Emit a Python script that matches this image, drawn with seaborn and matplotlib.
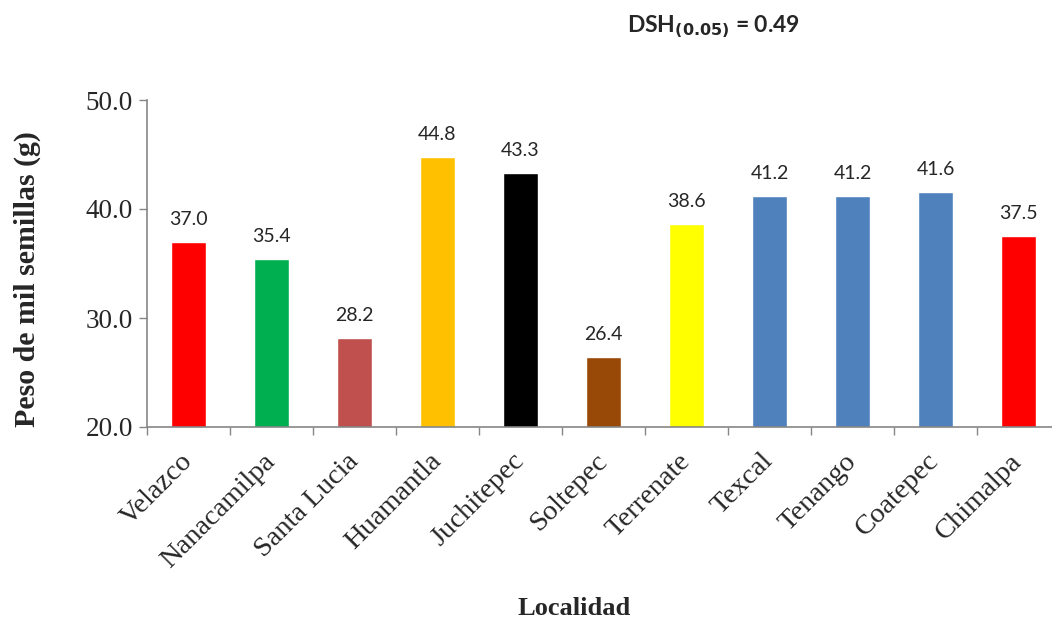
import matplotlib
matplotlib.use("Agg")
import matplotlib.pyplot as plt
import seaborn as sns
import pandas as pd
import numpy as np

localidades = ["Velazco", "Nanacamilpa", "Santa Lucia", "Huamantla", "Juchitepec",
               "Soltepec", "Terrenate", "Texcal", "Tenango", "Coatepec", "Chimalpa"]
peso = [37.0, 35.4, 28.2, 44.8, 43.3, 26.4, 38.6, 41.2, 41.2, 41.6, 37.5]
colores = ["#FF0000", "#00B050", "#C0504D", "#FFC000", "#000000", "#984807",
           "#FFFF00", "#4F81BD", "#4F81BD", "#4F81BD", "#FF0000"]
y_ticks = [20.0, 30.0, 40.0, 50.0]

sns.set_theme(style="white")
plt.rcParams["font.family"] = ["Liberation Serif", "DejaVu Serif"]

df = pd.DataFrame({"Localidad": localidades, "Peso": peso})

fig = plt.figure(figsize=(10.52, 6.21), dpi=100)
ax = fig.add_axes([147 / 1052, 1 - 427 / 621, 913 / 1052, 327 / 621])

sns.barplot(data=df, x="Localidad", y="Peso", hue="Localidad",
            palette=dict(zip(localidades, colores)), width=0.41,
            legend=False, ax=ax, saturation=1)

ax.set_ylim(20, 50)
ax.set_xlim(-0.5, len(localidades) - 0.5)
ax.set_yticks(y_ticks)
ax.set_yticklabels([f"{v:.1f}" for v in y_ticks], fontsize=19.5)

ax.set_xticks(range(len(localidades)))
ax.set_xticklabels(localidades, rotation=45, ha="right", va="center",
                   rotation_mode="anchor", fontsize=20.5)
ax.set_xticks(np.arange(-0.5, len(localidades), 1.0), minor=True)
ax.tick_params(axis="x", which="major", length=0, pad=22)
ax.tick_params(axis="x", which="minor", length=6, width=1, color="#868686",
               direction="out", bottom=True)
ax.tick_params(axis="y", length=6, width=1, color="#868686", direction="out",
               left=True, pad=4)

for side in ["top", "right"]:
    ax.spines[side].set_visible(False)
for side in ["left", "bottom"]:
    ax.spines[side].set_color("#868686")
    ax.spines[side].set_linewidth(1.2)

for i, v in enumerate(peso):
    ax.annotate(f"{v:.1f}", (i, v), xytext=(0, 12.2), textcoords="offset points",
                ha="center", va="baseline", fontsize=14,
                family=["Lato", "DejaVu Sans"])

ax.set_xlabel("Localidad", fontsize=19, fontweight="bold")
ax.set_ylabel("Peso de mil semillas (g)", fontsize=21.5, fontweight="bold")
ax.xaxis.set_label_coords((574 - 147) / 913, -(597 - 427) / 327)
ax.yaxis.set_label_coords(-(147 - 41) / 913, (427 - 279) / 327)

fig.text(627 / 1052, 1 - 27 / 621, r"DSH$_{\mathbf{(0.05)}}$ = 0.49",
         fontsize=16.5, fontweight="bold", ha="left", va="center",
         family=["Lato", "DejaVu Sans"])

fig.savefig("out.png", dpi=100)
